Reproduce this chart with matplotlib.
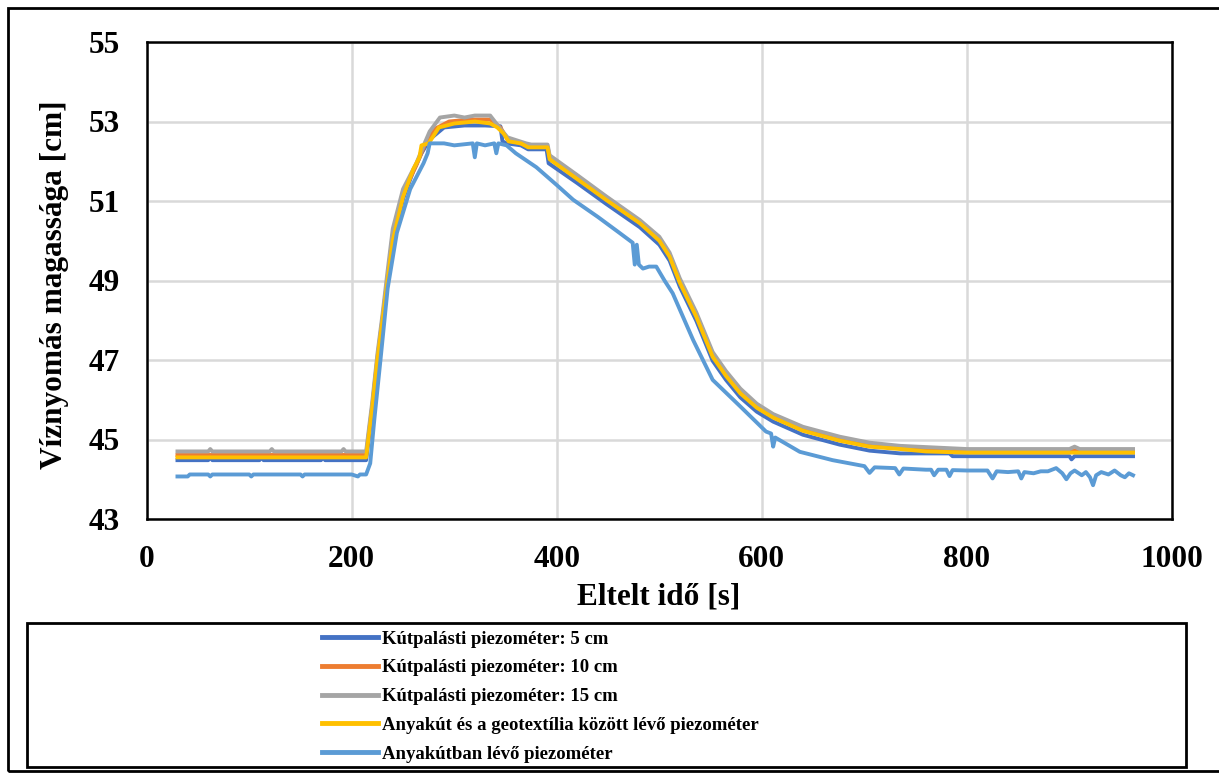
# Vízszint idősorok - piezométerek
import matplotlib
matplotlib.use("Agg")
import matplotlib.pyplot as plt
from matplotlib.patches import Rectangle

plt.rcParams['font.family'] = ['Liberation Serif', 'DejaVu Serif']
plt.rcParams['font.weight'] = 'bold'

labels = ["Kútpalásti piezométer: 5 cm",
          "Kútpalásti piezométer: 10 cm",
          "Kútpalásti piezométer: 15 cm",
          "Anyakút és a geotextília között lévő piezométer",
          "Anyakútban lévő piezométer"]
colors = ["#4472C4", "#ED7D31", "#A5A5A5", "#FFC000", "#5B9BD5"]

# 5 cm
t_5 = [30, 60, 62, 64, 110, 112, 114, 170, 172, 174, 214, 220, 225, 230, 235, 240, 250, 260, 268,
       276, 290, 310, 330, 345, 347, 351, 365, 372, 390, 392, 420, 448, 481, 500, 510, 520, 536,
       552, 565, 579, 595, 611, 640, 676, 705, 735, 783, 786, 900, 902, 905, 962]
y_5 = [44.48, 44.48, 44.55, 44.48, 44.48, 44.55, 44.48, 44.48, 44.55, 44.48, 44.48, 45.75, 46.95,
       47.95, 48.95, 49.95, 51.05, 51.75, 52.2, 52.55, 52.85, 52.9, 52.9, 52.88, 52.5, 52.45, 52.4,
       52.3, 52.3, 51.95, 51.45, 50.93, 50.34, 49.9, 49.5, 48.84, 47.99, 46.98, 46.5, 46.06, 45.7,
       45.45, 45.12, 44.87, 44.72, 44.65, 44.65, 44.58, 44.58, 44.5, 44.58, 44.58]

# 10 cm
t_10 = [30, 214, 220, 225, 230, 235, 240, 250, 263, 271, 280, 295, 315, 335, 345, 352, 370, 391,
        393, 420, 448, 481, 500, 510, 520, 536, 552, 565, 579, 595, 611, 640, 676, 705, 735, 800, 962]
y_10 = [44.61, 44.61, 45.85, 47.05, 48.05, 49.1, 50.15, 51.2, 51.9, 52.4, 52.8, 53.0, 53.05, 53.05,
        52.85, 52.55, 52.4, 52.37, 52.1, 51.6, 51.08, 50.48, 50.05, 49.65, 49.0, 48.15, 47.15, 46.66,
        46.22, 45.85, 45.6, 45.27, 45.02, 44.86, 44.8, 44.72, 44.72]

# 15 cm
t_15 = [30, 60, 62, 64, 120, 122, 124, 190, 192, 194, 214, 220, 225, 230, 235, 240, 250, 263, 271,
        276, 286, 300, 310, 320, 335, 347, 352, 370, 375, 391, 393, 420, 448, 481, 500, 510, 520,
        536, 552, 565, 579, 595, 611, 640, 676, 705, 735, 800, 900, 905, 910, 962]
y_15 = [44.7, 44.7, 44.76, 44.7, 44.7, 44.76, 44.7, 44.7, 44.76, 44.7, 44.7, 45.95, 47.15, 48.15,
        49.25, 50.3, 51.3, 51.95, 52.45, 52.75, 53.1, 53.15, 53.1, 53.15, 53.15, 52.75, 52.6, 52.45,
        52.42, 52.42, 52.15, 51.65, 51.12, 50.52, 50.1, 49.7, 49.05, 48.2, 47.2, 46.72, 46.28, 45.9,
        45.64, 45.32, 45.07, 44.92, 44.84, 44.76, 44.76, 44.82, 44.76, 44.76]

# geotextília
t_geo = [30, 214, 220, 225, 230, 235, 240, 250, 260, 266, 268, 275, 285, 300, 320, 335, 342, 348,
         353, 365, 372, 391, 393, 420, 448, 481, 500, 510, 520, 536, 552, 565, 579, 595, 611, 640,
         676, 705, 735, 760, 800, 962]
y_geo = [44.55, 44.55, 45.8, 47.0, 48.0, 49.0, 50.0, 51.1, 51.8, 52.1, 52.4, 52.45, 52.85, 52.95,
         53.0, 52.95, 52.85, 52.7, 52.5, 52.45, 52.35, 52.35, 52.05, 51.55, 51.03, 50.44, 50.0,
         49.6, 48.94, 48.09, 47.08, 46.6, 46.16, 45.8, 45.55, 45.22, 44.97, 44.82, 44.76, 44.7,
         44.67, 44.67]

# anyakút
t_any = [30, 40, 42, 60, 62, 64, 100, 102, 104, 150, 152, 154, 200, 206, 208, 214, 218, 222, 228,
         235, 244, 257, 270, 274, 276, 290, 300, 318, 320, 322, 330, 339, 341, 343, 351, 360, 380,
         400, 416, 440, 461, 474, 476, 478, 480, 484, 490, 497, 505, 513, 533, 552, 579, 604, 609,
         611, 613, 637, 669, 700, 705, 710, 730, 734, 738, 760, 765, 768, 772, 780, 783, 786, 800,
         820, 825, 829, 840, 850, 853, 856, 865, 872, 879, 887, 893, 897, 901, 905, 912, 916, 920,
         923, 926, 931, 938, 944, 950, 954, 958, 962]
y_any = [44.07, 44.07, 44.12, 44.12, 44.07, 44.12, 44.12, 44.07, 44.12, 44.12, 44.07, 44.12, 44.12,
         44.07, 44.12, 44.12, 44.4, 45.5, 47.0, 48.8, 50.2, 51.3, 51.95, 52.2, 52.45, 52.45, 52.4,
         52.45, 52.1, 52.45, 52.4, 52.45, 52.2, 52.45, 52.4, 52.2, 51.85, 51.4, 51.03, 50.6, 50.2,
         49.95, 49.4, 49.9, 49.4, 49.3, 49.35, 49.35, 49.0, 48.68, 47.5, 46.5, 45.83, 45.2, 45.15,
         44.82, 45.05, 44.69, 44.48, 44.33, 44.16, 44.3, 44.28, 44.12, 44.27, 44.24, 44.24, 44.1,
         44.24, 44.24, 44.08, 44.23, 44.22, 44.22, 44.02, 44.2, 44.18, 44.2, 44.02, 44.18, 44.15,
         44.2, 44.2, 44.28, 44.15, 44.0, 44.15, 44.22, 44.1, 44.18, 44.05, 43.85, 44.1, 44.18,
         44.12, 44.22, 44.1, 44.05, 44.15, 44.1]

series = [(t_5, y_5), (t_10, y_10), (t_15, y_15), (t_geo, y_geo), (t_any, y_any)]

W, H = 1219, 774
fig = plt.figure(figsize=(W / 100, H / 100), dpi=100)
ax = fig.add_axes([146.7 / W, 1 - 519 / H, (1172 - 146.7) / W, (519 - 42) / H])

for (t, y), c, lab in zip(series, colors, labels):
    ax.plot(t, y, color=c, lw=2.8, label=lab, solid_joinstyle='round')

ax.set_xlim(0, 1000)
ax.set_ylim(43, 55)
ax.set_xticks(range(0, 1001, 200))
ax.set_yticks(range(43, 56, 2))
ax.grid(True, color="#D9D9D9", lw=1.8)
ax.set_axisbelow(True)
ax.tick_params(length=0, labelsize=22.5, pad=19)
for sp in ax.spines.values():
    sp.set_linewidth(1.8)
    sp.set_color("black")

fig.text(659 / W, 1 - 597 / H, "Eltelt idő [s]", ha="center", va="center", fontsize=22.5, fontweight="bold")
fig.text(55 / W, 1 - 285 / H, "Víznyomás magassága [cm]", ha="center", va="center",
         rotation=90, fontsize=22.5, fontweight="bold")

# keretek
fig.patches.append(Rectangle((8 / W, 3 / H), 1.1, 1 - 11 / H, transform=fig.transFigure,
                             fill=False, ec="black", lw=2))
fig.patches.append(Rectangle((27 / W, 1 - 767 / H), (1186 - 27) / W, (767 - 623) / H,
                             transform=fig.transFigure, fill=False, ec="black", lw=2))

leg = fig.legend(loc="upper left", bbox_to_anchor=(314 / W, 1 - 623 / H), frameon=False,
                 fontsize=13.5, handlelength=3.0, handletextpad=0.2, labelspacing=0.62,
                 borderaxespad=0)
for h in leg.get_lines():
    h.set_linewidth(3.5)

fig.savefig("out.png", dpi=100)
